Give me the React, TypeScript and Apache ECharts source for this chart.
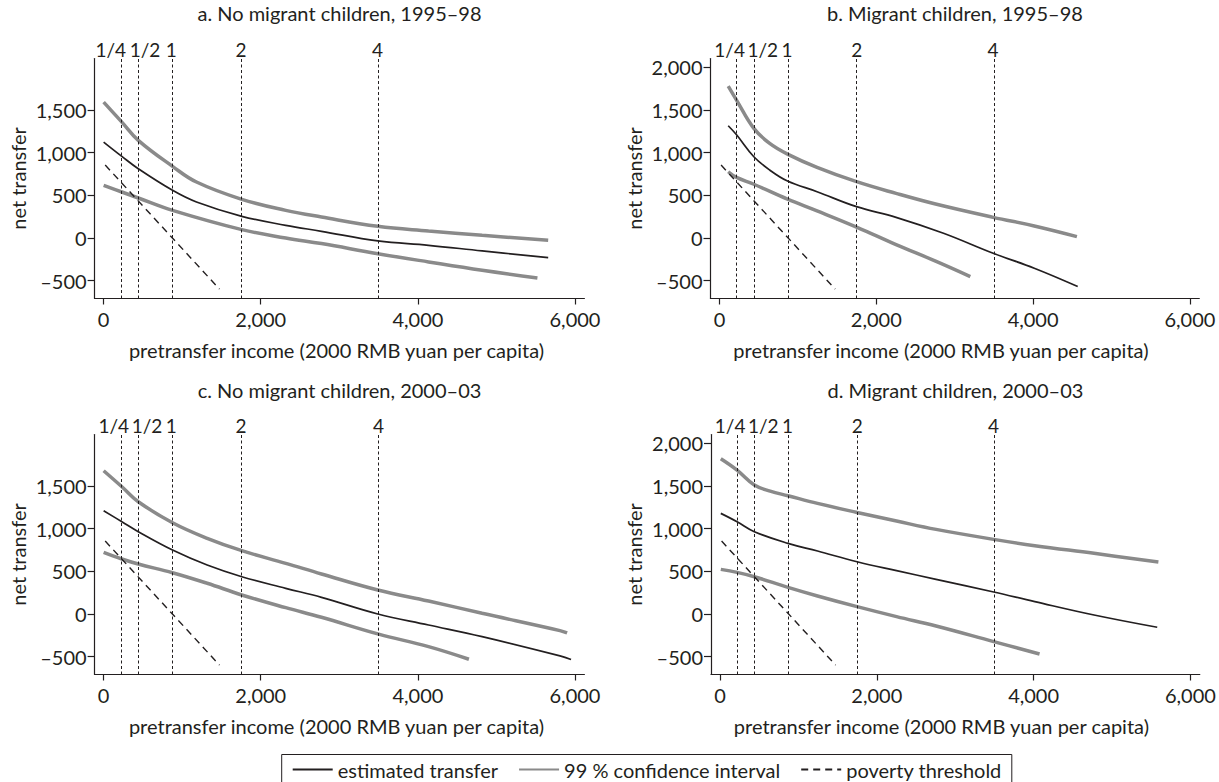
import React, { useEffect, useRef } from "react";
import * as echarts from "echarts";

// ---- text ----
const titles = [
  "a. No migrant children, 1995\u201398",
  "b. Migrant children, 1995\u201398",
  "c. No migrant children, 2000\u201303",
  "d. Migrant children, 2000\u201303",
];
const xName = "pretransfer income (2000 RMB yuan per capita)";
const yName = "net transfer";
const seriesNames = ["estimated transfer", "99 % confidence interval", "poverty threshold"];

// ---- ticks ----
const xTicks = [0, 2000, 4000, 6000];
const yTicksShort = [-500, 0, 500, 1000, 1500];
const yTicksLong = [-500, 0, 500, 1000, 1500, 2000];

// ---- poverty line (875 yuan) and multiples ----
const povertyLine = 875;
const multiples = [0.25, 0.5, 1, 2, 4];
const multipleLabels = ["1/4", "1/2", "1", "2", "4"];
const povertyX = [20, 1475];
const povertyY = [855, -600];

// ---- panel a ----
const aEstX = [0, 232, 441, 877, 1182, 1759, 2318, 2773, 3490, 4136, 4818, 5659];
const aEstY = [1125, 957, 812, 559, 422, 254, 148, 78, -35, -86, -152, -230];
const aUpX = [0, 232, 441, 877, 1182, 1759, 2318, 2773, 3490, 4136, 4818, 5659];
const aUpY = [1594, 1359, 1145, 840, 656, 453, 324, 246, 137, 82, 31, -27];
const aLoX = [0, 232, 441, 877, 1759, 2318, 2773, 3490, 4136, 4818, 5522];
const aLoY = [617, 539, 469, 324, 98, 0, -66, -184, -281, -379, -469];

// ---- panel b ----
const bEstX = [111, 217, 438, 640, 867, 1244, 1748, 2252, 2857, 3491, 4015, 4569];
const bEstY = [1316, 1210, 953, 797, 668, 543, 367, 242, 55, -180, -355, -570];
const bUpX = [111, 217, 438, 640, 867, 1244, 1748, 2252, 2756, 3491, 4015, 4559];
const bUpY = [1781, 1617, 1285, 1109, 984, 828, 660, 523, 398, 242, 141, 16];
const bLoX = [111, 217, 438, 867, 1244, 1748, 2252, 2756, 3199];
const bLoY = [777, 710, 630, 455, 318, 128, -78, -272, -453];

// ---- panel c ----
const cEstX = [0, 232, 441, 877, 1318, 1759, 2318, 2773, 3490, 4136, 4818, 5809, 5950];
const cEstY = [1211, 1082, 965, 750, 574, 437, 301, 195, 0, -129, -266, -492, -535];
const cUpX = [0, 232, 441, 877, 1318, 1759, 2318, 2773, 3490, 4136, 4818, 5809, 5900];
const cUpY = [1680, 1492, 1316, 1070, 887, 742, 594, 469, 281, 152, 8, -195, -222];
const cLoX = [0, 232, 441, 877, 1318, 1759, 2318, 2773, 3490, 4136, 4650];
const cLoY = [723, 645, 586, 484, 360, 223, 74, -39, -234, -383, -531];

// ---- panel d ----
const dEstX = [10, 217, 438, 867, 1244, 1748, 2252, 2756, 3491, 4015, 4771, 5577];
const dEstY = [1180, 1082, 965, 828, 738, 613, 508, 406, 258, 145, -12, -156];
const dUpX = [10, 217, 438, 640, 867, 1244, 1748, 2252, 2756, 3491, 4015, 4771, 5592];
const dUpY = [1820, 1687, 1512, 1441, 1387, 1297, 1191, 1090, 992, 875, 801, 711, 609];
const dLoX = [10, 217, 438, 867, 1244, 1748, 2252, 2756, 3491, 4076];
const dLoY = [523, 488, 437, 312, 211, 86, -31, -141, -324, -469];

const FONT = 'Lato, "Noto Sans", sans-serif';
const INK = "#231f20";
const GREY = "#8a8a8a";
const FS = 20;

const zip = (xs: number[], ys: number[]) => xs.map((x, i) => [x, ys[i]]);
const fmt = (v: number) => {
  const s = Math.abs(v).toLocaleString("en-US");
  return v < 0 ? "\u2013" + s : s;
};

const panels = [
  { est: zip(aEstX, aEstY), up: zip(aUpX, aUpY), lo: zip(aLoX, aLoY), yTicks: yTicksShort,
    grid: { left: 94.6, top: 58.5, width: 489.8, height: 240 }, offs: [-10, 7, -1, 0, -1], namePad: [0, 6, 0, 0] },
  { est: zip(bEstX, bEstY), up: zip(bUpX, bUpY), lo: zip(bLoX, bLoY), yTicks: yTicksLong,
    grid: { left: 710.5, top: 58.5, width: 488.8, height: 240 }, offs: [-7, 9, -1, 0, -1], namePad: [0, 28, 0, 0] },
  { est: zip(cEstX, cEstY), up: zip(cUpX, cUpY), lo: zip(cLoX, cLoY), yTicks: yTicksShort,
    grid: { left: 94.6, top: 434.5, width: 489.8, height: 240 }, offs: [-7, 9, -1, 0, 0], namePad: [0, 6, 0, 0] },
  { est: zip(dEstX, dEstY), up: zip(dUpX, dUpY), lo: zip(dLoX, dLoY), yTicks: yTicksLong,
    grid: { left: 711, top: 434.5, width: 488.8, height: 240 }, offs: [-7, 9, -1, 0, -1], namePad: [0, 28, 0, 0] },
];

export default function App() {
  const ref = useRef<HTMLDivElement>(null);
  useEffect(() => {
    if (!ref.current) return;
    const chart = echarts.init(ref.current, null, { renderer: "svg" });
    const axisLine = { show: true, onZero: false, lineStyle: { color: INK, width: 1.2 } };
    const labelStyle = { fontFamily: FONT, fontSize: FS, color: INK };

    const option: any = {
      animation: false,
      backgroundColor: "#fff",
      title: panels.map((p, i) => ({
        text: titles[i],
        left: p.grid.left + p.grid.width / 2,
        top: i < 2 ? 3 : 380,
        textAlign: "center",
        padding: 0,
        textStyle: { ...labelStyle, fontWeight: "normal" },
      })),
      grid: panels.map((p) => ({ ...p.grid, containLabel: false })),
      xAxis: panels.map((p, i) => ({
        gridIndex: i,
        type: "value",
        min: -115,
        max: 6120,
        axisLine,
        axisTick: { show: true, length: 6, customValues: xTicks, lineStyle: { color: INK, width: 1.2 } },
        axisLabel: { ...labelStyle, customValues: xTicks, formatter: fmt, margin: 10 },
        splitLine: { show: false },
        name: xName,
        nameLocation: "middle",
        nameGap: 41,
        nameTextStyle: { ...labelStyle, padding: p.namePad },
      })),
      yAxis: panels.map((p, i) => ({
        gridIndex: i,
        type: "value",
        min: -710,
        max: 2105,
        axisLine,
        axisTick: { show: true, length: 7, customValues: p.yTicks, lineStyle: { color: INK, width: 1.2 } },
        axisLabel: { ...labelStyle, customValues: p.yTicks, formatter: fmt, margin: 8 },
        splitLine: { show: false },
        name: yName,
        nameLocation: "middle",
        nameGap: 67,
        nameRotate: 90,
        nameTextStyle: labelStyle,
      })),
      legend: {
        data: seriesNames,
        left: 281.7,
        top: 754.5,
        orient: "horizontal",
        padding: [5, 10, 8, 10],
        borderColor: INK,
        borderWidth: 1,
        itemGap: 20,
        itemWidth: 40,
        itemHeight: 14,
        selectedMode: false,
        itemStyle: { opacity: 0 },
        textStyle: labelStyle,
      },
      series: panels.flatMap((p, i) => [
        {
          name: seriesNames[1], type: "line", xAxisIndex: i, yAxisIndex: i, data: p.up,
          symbol: "none", smooth: 0.4, z: 2,
          lineStyle: { color: GREY, width: 3.5 }, itemStyle: { color: GREY },
        },
        {
          name: seriesNames[1], type: "line", xAxisIndex: i, yAxisIndex: i, data: p.lo,
          symbol: "none", smooth: 0.4, z: 2,
          lineStyle: { color: GREY, width: 3.5 }, itemStyle: { color: GREY },
        },
        {
          name: seriesNames[0], type: "line", xAxisIndex: i, yAxisIndex: i, data: p.est,
          symbol: "none", smooth: 0.4, z: 3,
          lineStyle: { color: INK, width: 1.7 }, itemStyle: { color: INK },
        },
        {
          name: seriesNames[2], type: "line", xAxisIndex: i, yAxisIndex: i,
          data: zip(povertyX, povertyY),
          symbol: "none", z: 3,
          lineStyle: { color: INK, width: 1.4, type: [7, 5] }, itemStyle: { color: INK },
          markLine: {
            silent: true,
            symbol: ["none", "none"],
            lineStyle: { color: INK, width: 1, type: [3, 2.5] },
            label: { show: true, position: "end", distance: 0, ...labelStyle, fontSize: 19 },
            data: multiples.map((m, k) => ({
              xAxis: m * povertyLine,
              label: { formatter: multipleLabels[k], offset: [p.offs[k], 0] },
            })),
          },
        },
      ]),
    };
    chart.setOption(option);
    return () => chart.dispose();
  }, []);
  return (
    <div
      ref={ref}
      style={{ position: "fixed", left: 0, top: 0, width: 1219, height: 782, background: "#fff" }}
    />
  );
}
